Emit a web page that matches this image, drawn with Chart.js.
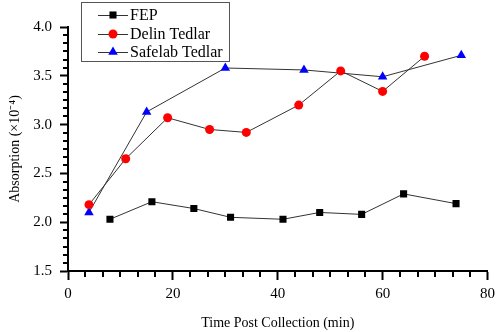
<!DOCTYPE html>
<html>
<head>
<meta charset="utf-8">
<script src="https://cdn.jsdelivr.net/npm/chart.js@4"></script>
<style>
  html, body { margin: 0; padding: 0; background: #fff; }
  #wrap { width: 500px; height: 332px; }
</style>
</head>
<body>
<div id="wrap"><canvas id="myChart" width="500" height="332"></canvas></div>
<script>
// values
const fepTime = [8, 16, 24, 31, 41, 48, 56, 64, 74];
const fepAbs = [2.03, 2.21, 2.14, 2.05, 2.03, 2.10, 2.08, 2.29, 2.19];

const delinTime = [4, 11, 19, 27, 34, 44, 52, 60, 68];
const delinAbs = [2.18, 2.65, 3.07, 2.95, 2.92, 3.20, 3.55, 3.34, 3.70];

const safelabTime = [4, 15, 30, 45, 60, 75];
const safelabAbs = [2.10, 3.13, 3.58, 3.56, 3.49, 3.71];

const xTicks = [0, 20, 40, 60, 80];
const yTicks = [1.5, 2.0, 2.5, 3.0, 3.5, 4.0];
const minorPerMajor = 5;

const serif = "'Liberation Serif', serif";
Chart.defaults.font.family = serif;
Chart.defaults.font.size = 15;
Chart.defaults.color = '#000';

function toPoints(xs, ys){
    let out = [];
    for(let i=0; i<xs.length; i++){
        out.push({x: xs[i], y: ys[i]});
    }
    return out;
}

// minor ticks + legend box drawn on top
const extras = {
    id: 'extras',
    afterDraw(chart){
        const ctx = chart.ctx;
        const xs = chart.scales.x, ys = chart.scales.y;
        const area = chart.chartArea;
        ctx.save();
        ctx.strokeStyle = '#000';
        ctx.lineWidth = 2;
        for(let i=0; i<xTicks.length-1; i++){
            let step = (xTicks[i+1]-xTicks[i])/(minorPerMajor+1);
            for(let k=1; k<=minorPerMajor; k++){
                let px = Math.round(xs.getPixelForValue(xTicks[i]+k*step));
                ctx.beginPath();
                ctx.moveTo(px, area.bottom);
                ctx.lineTo(px, area.bottom+6);
                ctx.stroke();
            }
        }
        for(let i=0; i<yTicks.length-1; i++){
            let step = (yTicks[i+1]-yTicks[i])/(minorPerMajor+1);
            for(let k=1; k<=minorPerMajor; k++){
                let py = Math.round(ys.getPixelForValue(yTicks[i]+k*step));
                ctx.beginPath();
                ctx.moveTo(area.left, py);
                ctx.lineTo(area.left-5, py);
                ctx.stroke();
            }
        }

        // legend
        const bx = 81, by = 2, bw = 148, bh = 59;
        ctx.fillStyle = '#fff';
        ctx.fillRect(bx, by, bw, bh);
        ctx.strokeStyle = '#555';
        ctx.lineWidth = 1;
        ctx.strokeRect(bx+0.5, by+0.5, bw, bh);
        const rows = [15, 34, 52];
        chart.data.datasets.forEach((ds, i) => {
            let y = rows[i];
            ctx.strokeStyle = ds.borderColor;
            ctx.lineWidth = 1;
            ctx.beginPath();
            ctx.moveTo(98, y+0.5);
            ctx.lineTo(128, y+0.5);
            ctx.stroke();
            ctx.fillStyle = ds.pointBackgroundColor;
            ctx.strokeStyle = ds.pointBackgroundColor;
            Chart.helpers.drawPoint(ctx, {pointStyle: ds.pointStyle, radius: ds.pointRadius, borderWidth: 0}, 113, y);
            ctx.fillStyle = '#000';
            ctx.font = '16px ' + serif;
            ctx.textBaseline = 'middle';
            ctx.textAlign = 'left';
            ctx.fillText(ds.label, 130, y+1);
        });
        ctx.restore();
    }
};

const mychart = document.getElementById('myChart').getContext('2d');
const result = new Chart(mychart, {
    type: 'line',
    data: {
        datasets: [{
            label: 'FEP',
            data: toPoints(fepTime, fepAbs),
            borderColor: '#333',
            borderWidth: 1,
            pointStyle: 'rect',
            pointRadius: 5,
            pointBackgroundColor: '#000',
            pointBorderColor: '#000',
            pointBorderWidth: 0
        }, {
            label: 'Delin Tedlar',
            data: toPoints(delinTime, delinAbs),
            borderColor: '#333',
            borderWidth: 1,
            pointStyle: 'circle',
            pointRadius: 4.5,
            pointBackgroundColor: '#ff0000',
            pointBorderColor: '#ff0000',
            pointBorderWidth: 0
        }, {
            label: 'Safelab Tedlar',
            data: toPoints(safelabTime, safelabAbs),
            borderColor: '#333',
            borderWidth: 1,
            pointStyle: 'triangle',
            pointRadius: 5.5,
            pointBackgroundColor: '#0000ff',
            pointBorderColor: '#0000ff',
            pointBorderWidth: 0
        }]
    },
    options: {
        responsive: false,
        animation: false,
        layout: { padding: { left: 0, right: 11, top: 27, bottom: 0 } },
        plugins: { legend: { display: false }, tooltip: { enabled: false } },
        scales: {
            x: {
                type: 'linear',
                min: 0, max: 80,
                afterBuildTicks: s => { s.ticks = xTicks.map(v => ({value: v})); },
                afterFit: s => { s.height = 61; },
                border: { display: true, color: '#000', width: 2 },
                grid: { drawOnChartArea: false, drawTicks: true, tickLength: 9, tickColor: '#000', tickWidth: 2 },
                ticks: { color: '#000', font: { family: serif, size: 15 }, padding: 5, maxRotation: 0 },
                title: { display: true, text: 'Time Post Collection (min)', color: '#000', font: { family: serif, size: 14 }, padding: { top: 4, bottom: 0 } }
            },
            y: {
                min: 1.5, max: 4.0,
                afterBuildTicks: s => { s.ticks = yTicks.map(v => ({value: v})); },
                afterFit: s => { s.width = 68; },
                border: { display: true, color: '#000', width: 2 },
                grid: { drawOnChartArea: false, drawTicks: true, tickLength: 8, tickColor: '#000', tickWidth: 2 },
                ticks: { color: '#000', font: { family: serif, size: 15 }, padding: 8, callback: v => v.toFixed(1) },
                title: { display: true, text: 'Absorption (×10⁻⁴)', color: '#000', font: { family: serif, size: 14 }, padding: { top: 7, bottom: 0 } }
            }
        }
    },
    plugins: [extras]
});
</script>
</body>
</html>
